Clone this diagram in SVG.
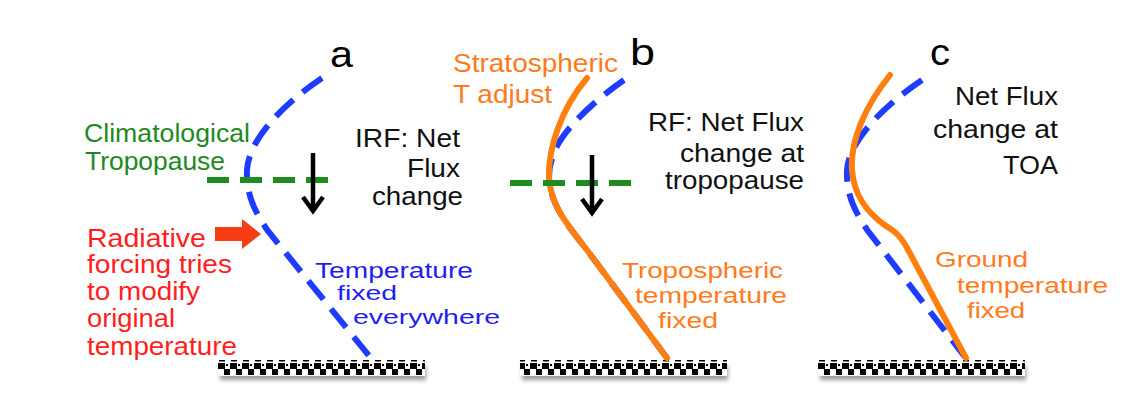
<svg xmlns="http://www.w3.org/2000/svg" width="1136" height="409" viewBox="0 0 1136 409">
<defs>
<style>
text{font-family:"Liberation Sans",Arial,sans-serif;font-size:25px}
.lbl{font-size:36px;fill:#000}
.blk{fill:#111}
.grn{fill:#1e8a1e}
.red{fill:#ff1e1e}
.blu{fill:#1e1ef0}
.sm{font-size:22px}
.xs{font-size:21px}
.org{fill:#ff7a1a}
.bdash{fill:none;stroke:#1e3cff;stroke-width:6;stroke-dasharray:24 12}
.gdash{fill:none;stroke:#1e8c1e;stroke-width:6;stroke-dasharray:22 11}
.oline{fill:none;stroke:#ff7f0e;stroke-width:6;stroke-linecap:round;stroke-linejoin:round}
.karrow{fill:none;stroke:#000;stroke-width:4.5}
</style>
<pattern id="grd" patternUnits="userSpaceOnUse" x="218" y="360" width="12" height="16">
<rect width="12" height="16" fill="#fff"/>
<rect x="1" y="0" width="6" height="1.5" fill="#000"/>
<rect x="0" y="3" width="7" height="6" fill="#000"/>
<rect x="6" y="9" width="6" height="6" fill="#000"/>
<rect x="8" y="4" width="2" height="2" fill="#000"/>
</pattern>
<filter id="sh" x="-10%" y="-50%" width="120%" height="200%"><feGaussianBlur stdDeviation="2"/></filter>
</defs>
<rect width="1136" height="409" fill="#fff"/>

<g id="ground-a">
<rect x="220" y="366" width="206" height="14" fill="#999" filter="url(#sh)"/>
<rect x="218" y="360" width="207" height="16" fill="url(#grd)"/>
</g>
<g id="ground-b">
<rect x="522" y="366" width="206" height="14" fill="#999" filter="url(#sh)"/>
<rect x="520" y="360" width="207" height="16" fill="url(#grd)"/>
</g>
<g id="ground-c">
<rect x="820" y="366" width="206" height="14" fill="#999" filter="url(#sh)"/>
<rect x="818" y="360" width="207" height="16" fill="url(#grd)"/>
</g>

<g id="connectors">
<path class="bdash" d="M322,78 C285,103 249,138 247,170 C246,195 255,212 268,231 L370,357"/>
<path class="gdash" d="M207,180 L330,180"/>
<path class="karrow" d="M313,153 L313,211 M303,197 L313,211 L323,197"/>
<path d="M215,227 L242,227 L242,219 L261,234 L242,249 L242,241 L215,241 Z" fill="#fa3c14"/>

<path class="bdash" d="M624,80 C595,100 565,128 555,150 C550,162 549,170 549,178 C551,205 565,222 587,250 L667,358"/>
<path class="oline" d="M587,78 C560,110 548,150 549,178 C551,205 565,222 587,250 L667,358"/>
<path class="gdash" d="M510,183 L632,183"/>
<path class="karrow" d="M592,155 L592,213 M582,199 L592,213 L602,199"/>

<path class="bdash" d="M922,80 C885,105 849,140 847,170 C846,195 855,212 868,231 L965,357"/>
<path class="oline" d="M890,75 C866,105 850,140 852,170 C854,195 866,212 886,226 C896,232 900,236 906,246 L966,358"/>
</g>

<g id="panel-a">
<text class="lbl" x="330" y="67" textLength="23" lengthAdjust="spacingAndGlyphs">a</text>
<text class="grn" x="84" y="142" textLength="166" lengthAdjust="spacingAndGlyphs">Climatological</text>
<text class="grn" x="85" y="170" textLength="140" lengthAdjust="spacingAndGlyphs">Tropopause</text>
<text class="blk" x="355" y="147" textLength="105" lengthAdjust="spacingAndGlyphs">IRF: Net</text>
<text class="blk" x="407" y="177" textLength="53" lengthAdjust="spacingAndGlyphs">Flux</text>
<text class="blk" x="372" y="205" textLength="91" lengthAdjust="spacingAndGlyphs">change</text>
<text class="red" x="87" y="247" textLength="119" lengthAdjust="spacingAndGlyphs">Radiative</text>
<text class="red" x="87" y="273" textLength="145" lengthAdjust="spacingAndGlyphs">forcing tries</text>
<text class="red" x="87" y="300" textLength="113" lengthAdjust="spacingAndGlyphs">to modify</text>
<text class="red" x="87" y="327" textLength="88" lengthAdjust="spacingAndGlyphs">original</text>
<text class="red" x="87" y="355" textLength="150" lengthAdjust="spacingAndGlyphs">temperature</text>
<text class="blu sm" x="315" y="278" textLength="158" lengthAdjust="spacingAndGlyphs">Temperature</text>
<text class="blu xs" x="337" y="300" textLength="60" lengthAdjust="spacingAndGlyphs">fixed</text>
<text class="blu xs" x="353" y="324" textLength="147" lengthAdjust="spacingAndGlyphs">everywhere</text>
</g>

<g id="panel-b">
<text class="lbl" x="630" y="65" textLength="25" lengthAdjust="spacingAndGlyphs">b</text>
<text class="org" x="453" y="72" textLength="165" lengthAdjust="spacingAndGlyphs">Stratospheric</text>
<text class="org" x="453" y="103" textLength="99" lengthAdjust="spacingAndGlyphs">T adjust</text>
<text class="blk" x="648" y="131" textLength="156" lengthAdjust="spacingAndGlyphs">RF: Net Flux</text>
<text class="blk" x="680" y="162" textLength="124" lengthAdjust="spacingAndGlyphs">change at</text>
<text class="blk" x="665" y="189" textLength="139" lengthAdjust="spacingAndGlyphs">tropopause</text>
<text class="org sm" x="622" y="278" textLength="161" lengthAdjust="spacingAndGlyphs">Tropospheric</text>
<text class="org sm" x="635" y="303" textLength="152" lengthAdjust="spacingAndGlyphs">temperature</text>
<text class="org sm" x="658" y="328" textLength="60" lengthAdjust="spacingAndGlyphs">fixed</text>
</g>

<g id="panel-c">
<text class="lbl" x="930" y="65" textLength="20" lengthAdjust="spacingAndGlyphs">c</text>
<text class="blk" x="955" y="105" textLength="103" lengthAdjust="spacingAndGlyphs">Net Flux</text>
<text class="blk" x="933" y="138" textLength="125" lengthAdjust="spacingAndGlyphs">change at</text>
<text class="blk" x="1003" y="174" textLength="55" lengthAdjust="spacingAndGlyphs">TOA</text>
<text class="org sm" x="935" y="267" textLength="93" lengthAdjust="spacingAndGlyphs">Ground</text>
<text class="org sm" x="957" y="293" textLength="151" lengthAdjust="spacingAndGlyphs">temperature</text>
<text class="org sm" x="967" y="318" textLength="58" lengthAdjust="spacingAndGlyphs">fixed</text>
</g>
</svg>
